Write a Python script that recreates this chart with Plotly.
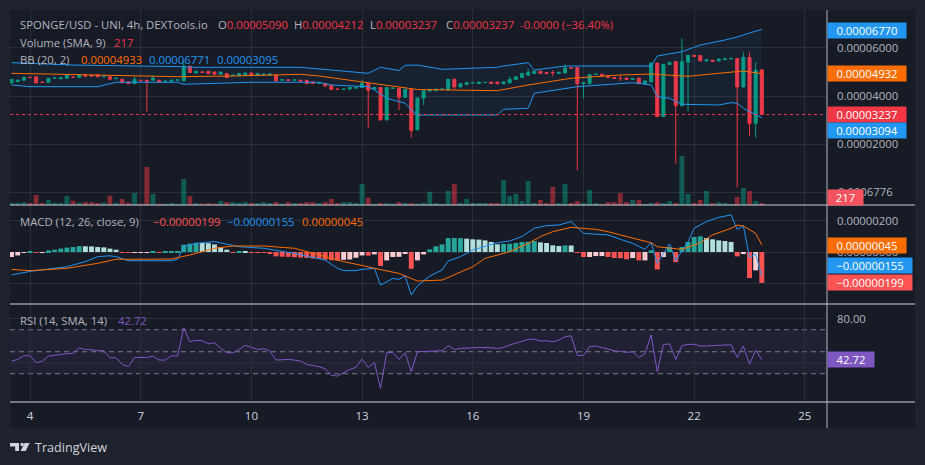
import plotly.graph_objects as go
from datetime import datetime, timedelta

W, H = 925, 465

# ---------------- data ----------------
START = datetime(2023, 6, 3, 12, 0)          # first 4h bar (3rd, 12:00)
N_BARS = 123
day_ticks = [4, 7, 10, 13, 16, 19, 22, 25]

open_e5 = [4.55,4.60,4.66,4.78,4.80,4.58,4.57,4.74,4.72,4.74,
 4.79,4.77,4.87,4.85,4.88,4.80,4.80,4.72,4.70,4.59,
 4.52,4.66,4.66,4.66,4.66,4.60,4.62,4.66,4.63,5.24,
 4.96,5.00,5.03,5.00,4.91,4.94,4.86,4.84,4.87,4.96,
 4.87,4.87,4.87,4.87,4.66,4.67,4.66,4.66,4.66,4.59,
 4.52,4.52,4.45,4.29,4.28,4.29,4.33,4.36,4.52,4.29,
 4.36,3.01,4.32,4.32,3.95,4.28,2.60,3.92,4.21,4.22,
 4.28,4.25,4.70,4.38,4.48,4.55,4.52,4.56,4.58,4.58,
 4.51,4.55,4.69,4.77,4.87,4.94,5.03,4.98,4.98,4.94,
 4.96,5.18,5.18,4.52,4.52,4.90,4.91,4.84,4.77,4.74,
 4.75,4.69,4.75,4.52,4.59,5.37,3.15,5.31,5.43,3.60,
 5.41,5.69,5.69,5.46,5.49,5.46,5.51,5.54,5.56,4.38,
 5.60,2.87,5.09]
high_e5 = [4.72,4.68,4.80,4.80,4.81,4.60,4.76,4.77,4.78,4.91,
 4.81,4.91,4.88,4.86,4.89,4.83,4.81,4.75,4.71,4.60,
 4.82,4.67,4.67,4.88,4.67,4.63,4.67,4.68,5.48,5.26,
 5.04,5.01,5.04,5.01,5.01,4.95,4.88,4.95,4.97,4.97,
 4.95,4.92,4.93,4.88,4.69,4.68,4.68,4.67,4.67,4.60,
 4.54,4.53,4.46,4.30,4.30,4.37,4.37,4.66,4.53,4.37,
 4.37,4.37,4.34,4.33,4.29,4.29,3.93,4.25,4.29,4.30,
 4.30,4.71,4.71,4.53,4.57,4.57,4.59,4.58,4.59,4.59,
 4.60,4.82,4.81,4.95,5.14,5.04,5.04,4.99,5.07,5.00,
 5.32,5.19,5.19,4.56,4.90,4.92,4.92,4.85,4.78,4.89,
 4.76,4.74,4.76,4.64,5.38,5.38,5.33,5.41,5.44,6.39,
 5.72,5.70,5.70,5.52,5.50,5.55,5.56,5.60,5.58,5.81,
 5.81,5.40,5.09]
low_e5 = [4.52,4.58,4.64,4.75,4.53,4.55,4.55,4.72,4.70,4.72,
 4.76,4.76,4.82,4.82,4.79,4.79,4.69,4.71,4.54,4.51,
 4.51,4.63,3.35,4.65,4.57,4.59,4.61,4.65,4.62,4.97,
 4.95,4.98,4.93,4.90,4.90,4.76,4.85,4.83,4.86,4.86,
 4.86,4.86,4.86,4.62,4.65,4.65,4.65,4.61,4.51,4.51,
 4.51,4.41,4.27,4.27,4.27,4.28,4.32,4.35,2.68,4.28,
 3.00,3.00,4.31,3.42,3.94,2.27,2.58,3.63,4.20,4.21,
 4.27,4.24,4.28,4.37,4.47,4.54,4.51,4.55,4.51,4.50,
 4.50,4.54,4.68,4.76,4.86,4.93,4.93,4.93,4.82,4.93,
 4.95,5.15,0.92,3.90,4.51,4.89,4.83,4.76,4.72,4.63,
 4.68,4.68,4.51,4.51,4.58,3.14,3.14,5.30,1.20,3.59,
 3.35,5.64,5.45,5.45,5.43,5.45,5.50,5.53,0.22,4.37,
 2.35,2.27,3.237]
close_e5 = [4.69,4.66,4.78,4.77,4.55,4.57,4.74,4.75,4.76,4.87,
 4.78,4.89,4.83,4.83,4.80,4.82,4.70,4.74,4.55,4.52,
 4.69,4.64,4.62,4.74,4.58,4.62,4.66,4.67,5.24,4.98,
 5.03,4.99,4.94,4.91,5.00,4.77,4.87,4.94,4.96,4.87,
 4.94,4.91,4.92,4.63,4.68,4.66,4.67,4.62,4.52,4.52,
 4.53,4.42,4.28,4.28,4.29,4.36,4.36,4.52,4.25,4.36,
 3.01,4.36,4.33,3.95,4.28,2.57,3.92,4.22,4.28,4.29,
 4.29,4.70,4.38,4.52,4.56,4.56,4.58,4.57,4.52,4.51,
 4.59,4.70,4.80,4.94,4.98,5.03,4.94,4.94,4.97,4.99,
 5.17,5.16,4.52,4.55,4.89,4.91,4.84,4.77,4.73,4.73,
 4.69,4.73,4.52,4.63,5.37,3.15,5.32,5.40,3.60,5.43,
 5.69,5.65,5.46,5.51,5.44,5.54,5.55,5.56,4.38,5.60,
 2.87,5.07,3.237]
volume = [250,250,326,217,1085,217,543,250,217,977,
 467,250,326,326,217,293,1009,250,651,250,
 1302,141,4123,1194,141,141,217,141,2821,977,
 217,141,217,141,434,326,326,250,326,217,
 217,326,217,326,141,326,217,217,326,326,
 217,326,651,217,326,326,217,2279,792,141,
 217,217,141,326,217,217,141,250,1443,217,
 141,1519,2279,217,651,217,217,217,217,217,
 2713,977,1194,434,2604,217,543,217,1953,217,
 2279,217,434,217,1628,217,109,326,326,1302,
 326,543,543,109,217,326,217,434,217,5317,
 1194,217,543,1519,217,326,217,109,868,1845,
 1519,434,217]

# Bollinger bands (20, 2) read at their vertices: bar index + value (x1e-5)
bbu_idx = [0,10,28,30,47,52,58,60,63,64,66,70,79,80,84,85,90,104,105,109,112,116,118,120,122]
bbu_e5 = [5.386,5.290,5.220,5.195,5.195,5.083,4.946,5.195,5.062,5.278,5.290,5.112,5.195,
          5.249,5.386,5.083,5.249,5.249,5.664,5.842,6.120,6.328,6.452,6.618,6.771]
bbm_idx = [0,14,27,36,47,50,55,59,63,66,79,84,91,99,104,110,115,119,122]
bbm_e5 = [4.946,4.876,4.805,4.834,4.905,4.834,4.668,4.531,4.390,4.274,4.224,4.461,4.739,
          4.876,4.917,4.822,4.946,5.041,4.933]
bbl_idx = [0,3,14,17,27,28,39,50,52,58,59,61,64,65,66,79,80,84,85,90,92,101,104,105,107,
           109,115,117,118,119,122]
bbl_e5 = [4.461,4.390,4.390,4.573,4.573,4.490,4.573,4.573,4.461,4.390,4.253,3.909,3.701,
          3.423,3.216,3.216,3.452,3.494,4.116,4.324,4.390,4.556,4.461,3.975,3.909,3.660,
          3.631,3.726,3.701,3.494,3.094]

# MACD (12, 26, close, 9), values x1e-6
hist_e6 = [-0.32,-0.22,-0.05,0.02,-0.06,-0.02,0.10,0.15,0.22,0.28,
 0.32,0.38,0.37,0.36,0.32,0.30,0.22,0.15,-0.04,-0.06,
 -0.06,-0.05,-0.02,0.02,-0.04,0.01,0.01,0.02,0.47,0.54,
 0.59,0.58,0.57,0.49,0.32,0.15,-0.04,0.02,0.01,-0.02,
 -0.05,-0.06,-0.07,-0.28,-0.30,-0.31,-0.33,-0.36,-0.38,-0.42,
 -0.44,-0.49,-0.53,-0.55,-0.50,-0.48,-0.37,-0.22,-0.23,-0.15,
 -0.90,-0.54,-0.32,-0.31,-0.11,-1.08,-0.54,-0.15,0.17,0.37,
 0.49,0.90,0.90,0.90,0.86,0.82,0.80,0.75,0.65,0.50,
 0.52,0.53,0.58,0.65,0.66,0.71,0.62,0.58,0.43,0.39,
 0.43,0.42,-0.06,-0.32,-0.32,-0.26,-0.26,-0.32,-0.39,-0.40,
 -0.47,-0.39,-0.54,-0.54,0.11,-1.12,-0.32,0.32,-0.65,0.32,
 0.65,0.97,1.01,0.90,0.82,0.75,0.71,0.65,-0.28,-0.11,
 -1.68,-1.18,-1.99]
macd_idx = [0,3,9,12,14,16,17,19,26,27,28,30,33,35,37,41,46,51,53,54,56,57,59,60,62,63,64,
            65,66,68,70,71,73,75,77,79,81,83,85,87,89,91,93,97,99,101,103,104,105,107,108,
            110,111,113,115,117,118,119,120,121,122]
macd_e6 = [-1.48,-1.25,-0.95,-0.62,-0.30,-0.24,-0.30,-0.56,-0.56,-0.47,0.34,0.56,0.67,0.52,
           0.34,0.24,-0.09,-0.52,-1.05,-1.20,-1.20,-1.12,-1.05,-2.13,-1.70,-1.76,-1.55,-2.77,
           -2.19,-1.55,-1.16,-0.58,-0.30,0.13,0.39,0.60,0.71,1.00,1.53,1.70,1.74,1.96,1.20,
           1.10,0.82,0.56,0.17,0.62,-0.73,0.52,-0.56,0.67,1.53,1.96,2.24,2.39,1.46,1.68,
           -0.34,-0.13,-1.55]
sig_idx = [0,3,9,14,17,26,29,33,36,41,46,50,54,58,59,63,65,66,70,72,75,77,81,84,86,88,91,
           95,97,99,102,104,105,107,109,112,114,117,118,119,121,122]
sig_e6 = [-1.12,-1.20,-1.05,-0.73,-0.47,-0.45,-0.19,0.24,0.39,0.39,0.24,-0.19,-0.62,-0.95,
          -1.05,-1.38,-1.70,-1.87,-1.81,-1.48,-0.95,-0.41,0.02,0.56,0.99,1.31,1.59,1.46,
          1.31,1.10,0.82,0.60,0.34,0.24,0.17,0.60,1.10,1.53,1.74,1.68,1.20,0.45]

# RSI (14)
rsi = [41.5,43.0,46.4,46.4,40.0,41.5,46.0,46.7,47.9,48.2,
 48.5,53.6,52.0,51.8,50.9,50.9,44.5,44.5,38.5,36.4,
 44.8,44.8,44.8,46.0,42.4,42.4,46.4,46.0,71.8,59.1,
 60.3,60.0,57.3,58.2,53.0,49.1,49.1,52.1,55.8,53.9,
 52.1,52.7,50.9,42.4,43.0,43.0,42.4,41.5,38.5,37.6,
 36.4,34.5,28.5,27.9,30.9,33.9,35.8,43.3,35.8,40.3,
 16.7,49.1,49.4,43.0,49.1,31.8,50.0,50.3,50.6,50.8,
 50.9,55.5,52.1,53.0,53.6,53.6,53.9,53.9,53.6,53.0,
 53.9,56.1,57.9,59.7,61.2,61.5,59.7,60.0,59.1,60.6,
 63.6,64.5,46.7,46.7,54.5,55.2,53.9,52.1,50.9,50.3,
 49.4,50.0,44.8,47.9,65.2,31.8,56.7,57.0,43.0,55.5,
 56.7,56.7,55.2,55.2,55.5,55.8,56.1,56.4,44.8,55.2,
 38.5,51.5,42.72]

# ---------------- helpers ----------------
times = [START + timedelta(hours=4 * i) for i in range(N_BARS)]
def at(idx):
    return [times[i] for i in idx]
def e5(v):
    return [x * 1e-5 for x in v]
def e6(v):
    return [x * 1e-6 for x in v]
def py(y):   # pixel row -> paper fraction
    return 1 - y / H
def px(x):
    return x / W

UP, DOWN = '#089981', '#f23645'
BLUE, ORANGE, PURPLE = '#2196f3', '#ff6d00', '#7e57c2'
GRID = '#2a2e39'
TXT = '#b2b5be'
BAR_W = 0.8 * 4 * 3600 * 1000

vol_colors = ['rgba(8,153,129,0.5)' if c >= o else 'rgba(242,54,69,0.5)'
              for o, c in zip(open_e5, close_e5)]
hist_colors = []
for k, h in enumerate(hist_e6):
    prev = hist_e6[k - 1] if k > 0 else h
    if h >= 0:
        hist_colors.append('#26a69a' if h >= prev else '#b2dfdb')
    else:
        hist_colors.append('#ff5252' if h < prev else '#ffcdd2')

fig = go.Figure()

# volume (overlay on main pane)
fig.add_trace(go.Bar(x=times, y=volume, marker=dict(color=vol_colors, line=dict(width=0)),
                     width=BAR_W, xaxis='x', yaxis='y4', hoverinfo='skip'))
# Bollinger bands
fig.add_trace(go.Scatter(x=at(bbu_idx), y=e5(bbu_e5), mode='lines',
                         line=dict(color=BLUE, width=1), xaxis='x', yaxis='y', hoverinfo='skip'))
fig.add_trace(go.Scatter(x=at(bbl_idx), y=e5(bbl_e5), mode='lines', fill='tonexty',
                         fillcolor='rgba(33,150,243,0.05)',
                         line=dict(color=BLUE, width=1), xaxis='x', yaxis='y', hoverinfo='skip'))
fig.add_trace(go.Scatter(x=at(bbm_idx), y=e5(bbm_e5), mode='lines',
                         line=dict(color=ORANGE, width=1), xaxis='x', yaxis='y', hoverinfo='skip'))
# candles
fig.add_trace(go.Candlestick(x=times, open=e5(open_e5), high=e5(high_e5), low=e5(low_e5),
                             close=e5(close_e5), whiskerwidth=0,
                             increasing=dict(line=dict(color=UP, width=1), fillcolor=UP),
                             decreasing=dict(line=dict(color=DOWN, width=1), fillcolor=DOWN),
                             xaxis='x', yaxis='y', hoverinfo='skip'))
# MACD
fig.add_trace(go.Bar(x=times, y=e6(hist_e6), marker=dict(color=hist_colors, line=dict(width=0)),
                     width=BAR_W, xaxis='x', yaxis='y2', hoverinfo='skip'))
fig.add_trace(go.Scatter(x=at(macd_idx), y=e6(macd_e6), mode='lines',
                         line=dict(color=BLUE, width=1), xaxis='x', yaxis='y2', hoverinfo='skip'))
fig.add_trace(go.Scatter(x=at(sig_idx), y=e6(sig_e6), mode='lines',
                         line=dict(color=ORANGE, width=1), xaxis='x', yaxis='y2', hoverinfo='skip'))
# RSI
fig.add_trace(go.Scatter(x=times, y=rsi, mode='lines', line=dict(color=PURPLE, width=1),
                         xaxis='x', yaxis='y3', hoverinfo='skip'))

t_left = START - timedelta(hours=1.01)
t_right = START + timedelta(hours=530.4)
tick_dates = [datetime(START.year, START.month, d) for d in day_ticks]

yax_common = dict(side='right', anchor='x', showgrid=True, gridcolor=GRID, gridwidth=1,
                  zeroline=False, showline=False, ticks='', ticklabelstandoff=9,
                  tickfont=dict(size=11.3, color=TXT), fixedrange=True)

fig.update_layout(
    width=W, height=H, margin=dict(l=0, r=0, t=0, b=0),
    paper_bgcolor='#1e222d', plot_bgcolor='rgba(0,0,0,0)',
    showlegend=False, barmode='overlay', hovermode=False,
    font=dict(family='Open Sans', size=11.3, color=TXT),
    xaxis=dict(domain=[px(10), px(827)], type='date', range=[t_left, t_right], anchor='y3',
               tickvals=tick_dates, ticktext=[str(d) for d in day_ticks],
               showgrid=True, gridcolor=GRID, gridwidth=1, zeroline=False, showline=False,
               ticks='', ticklabelstandoff=5, tickfont=dict(size=11.5, color='#d1d4dc'),
               rangeslider=dict(visible=False), fixedrange=True),
    yaxis=dict(domain=[py(205), py(10)], range=[-0.519e-5, 7.573e-5],
               tickvals=[0, 2e-5, 4e-5, 6e-5],
               ticktext=['', '0.00002000', '0.00004000', '0.00006000'], **yax_common),
    yaxis2=dict(domain=[py(304), py(205)], range=[-3.35e-6, 3.03e-6],
                tickvals=[-2e-6, 0, 2e-6],
                ticktext=['', '0.00000000', '0.00000200'], **yax_common),
    yaxis3=dict(domain=[py(402), py(304)], range=[4.3, 93.4],
                tickvals=[40, 80], ticktext=['', '80.00'], **yax_common),
    yaxis4=dict(overlaying='y', range=[0, 21158], visible=False, fixedrange=True),
)

shapes = []
# chart panel
shapes.append(dict(type='rect', xref='paper', yref='paper', x0=px(10), x1=px(915),
                   y0=py(428), y1=py(10), fillcolor='#171b26', line=dict(width=0), layer='below'))
# RSI band + levels
shapes.append(dict(type='rect', xref='paper', yref='y3', x0=px(10), x1=px(827), y0=30, y1=70,
                   fillcolor='rgba(126,87,194,0.1)', line=dict(width=0), layer='below'))
for lvl in (70, 50, 30):
    shapes.append(dict(type='line', xref='paper', yref='y3', x0=px(10), x1=px(827), y0=lvl,
                       y1=lvl, line=dict(color='#787b86', width=1, dash='5px,4px'), layer='below'))
# last price line
shapes.append(dict(type='line', xref='paper', yref='y', x0=px(10), x1=px(827),
                   y0=close_e5[-1] * 1e-5, y1=close_e5[-1] * 1e-5,
                   line=dict(color=DOWN, width=1, dash='dot'), layer='above'))
# pane separators and price-scale border
for yy in (205, 304, 402):
    shapes.append(dict(type='line', xref='paper', yref='paper', x0=px(10), x1=px(915),
                       y0=py(yy), y1=py(yy), line=dict(color='#d1d4dc', width=1), layer='above'))
shapes.append(dict(type='line', xref='paper', yref='paper', x0=px(827), x1=px(827),
                   y0=py(428), y1=py(10), line=dict(color='#b2b5be', width=1), layer='above'))

# TradingView logo mark
def path(pts):
    return 'M ' + ' L '.join(f'{px(a):.5f},{py(b):.5f}' for a, b in pts) + ' Z'
shapes.append(dict(type='path', xref='paper', yref='paper',
                   path=path([(10, 443), (19, 443), (19, 451), (15.2, 451), (15.2, 446.5), (10, 446.5)]),
                   fillcolor='#d1d4dc', line=dict(width=0)))
shapes.append(dict(type='circle', xref='paper', yref='paper', x0=px(20.3), x1=px(23.9),
                   y0=py(446.3), y1=py(442.7), fillcolor='#d1d4dc', line=dict(width=0)))
shapes.append(dict(type='path', xref='paper', yref='paper',
                   path=path([(24.6, 443), (29.6, 443), (25.6, 451), (20.6, 451)]),
                   fillcolor='#d1d4dc', line=dict(width=0)))
fig.update_layout(shapes=shapes)

ann = []
def text(x, y, s, color=TXT, size=11.3):
    ann.append(dict(x=px(x), y=py(y), xref='paper', yref='paper', text=s, showarrow=False,
                    xanchor='left', yanchor='middle', font=dict(color=color, size=size)))
def red(s, c=DOWN):
    return f"<span style='color:{c}'>{s}</span>"

# legends
text(18, 25, 'SPONGE/USD - UNI, 4h, DEXTools.io')
text(216, 25, 'O' + red('0.00005090'))
text(292, 25, 'H' + red('0.00004212'))
text(368, 25, 'L' + red('0.00003237'))
text(444, 25, 'C' + red('0.00003237'))
text(518, 25, red('-0.0000 (\u221236.40%)'))
text(18, 42, 'Volume (SMA, 9)')
text(112, 42, '217', DOWN)
text(18, 59, 'BB (20, 2)')
text(79, 59, '0.00004933', ORANGE)
text(147, 59, '0.00006771', BLUE)
text(215, 59, '0.00003095', BLUE)
text(18, 221, 'MACD (12, 26, close, 9)')
text(151, 221, '\u22120.00000199', '#ff5252')
text(225, 221, '\u22120.00000155', BLUE)
text(300, 221, '0.00000045', ORANGE)
text(18, 320, 'RSI (14, SMA, 14)')
text(116, 320, '42.72', PURPLE)
text(836, 191, '0.0006776')
text(33, 447, 'TradingView', '#d1d4dc', 12.6)

def box(s, y, yref, bg, width=76, yshift=0):
    ann.append(dict(x=px(827), xref='paper', y=y, yref=yref, text=s, showarrow=False,
                    xanchor='left', yanchor='middle', align='center', width=width, height=13,
                    borderpad=1, bgcolor=bg, yshift=yshift,
                    font=dict(color='#ffffff', size=11.3)))

box('0.00006770', 6.770e-5, 'y', BLUE, yshift=-1)
box('0.00004932', 4.932e-5, 'y', ORANGE)
box('0.00003237', 3.237e-5, 'y', DOWN)
box('0.00003094', 3.094e-5, 'y', BLUE, yshift=-13)
box('217', py(197.5), 'paper', '#f7525f', width=33)
box('0.00000045', 0.45e-6, 'y2', ORANGE)
box('\u22120.00000155', -1.55e-6, 'y2', BLUE, width=82, yshift=11)
box('\u22120.00000199', -1.99e-6, 'y2', '#ff5252', width=82)
box('42.72', 42.72, 'y3', PURPLE, width=44)
fig.update_layout(annotations=ann)

fig.write_html('out.html', config={'displayModeBar': False})
